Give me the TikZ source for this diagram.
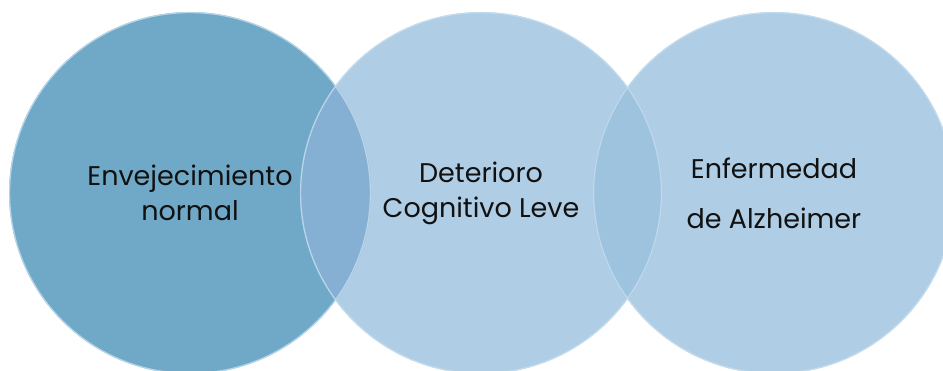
\documentclass[tikz,border=0pt]{standalone}
\usepackage{fontspec}
\setmainfont{Poppins}
\definecolor{normalfill}{HTML}{70A9C7}
\definecolor{stagefill}{HTML}{AFCDE4}
\definecolor{lensA}{HTML}{86B0D3}
\definecolor{lensB}{HTML}{9EC3DF}
\definecolor{rimcol}{HTML}{C8DFEF}
\definecolor{inkcol}{HTML}{111111}
\begin{document}
\begin{tikzpicture}[x=1pt,y=-1pt,
	bubble/.style={circle,minimum size=362pt,inner sep=0pt,align=center,
		text=inkcol,font=\fontsize{27}{35}\selectfont},
	rim/.style={draw=rimcol,line width=1.2pt,opacity=.8}]

				\useasboundingbox (0,0) rectangle (943,371);

				\node[bubble,fill=normalfill] (normal) at (190,193) {Envejecimiento\\normal};
				\node[bubble,fill=stagefill] (dcl) at (481,193) {Deterioro\\Cognitivo Leve};
				\node[bubble,fill=stagefill,font=\fontsize{27}{50}\selectfont] (alz) at (774,193) {Enfermedad\\de Alzheimer};

				% overlaps
				\begin{scope}
					\clip (normal.center) circle (181);
					\fill[lensA] (dcl.center) circle (181);
				\end{scope}
				\begin{scope}
					\clip (dcl.center) circle (181);
					\fill[lensB] (alz.center) circle (181);
				\end{scope}

				\draw[rim] (normal.center) circle (180.4);
				\draw[rim] (dcl.center) circle (180.4);
				\draw[rim] (alz.center) circle (180.4);

			\end{tikzpicture}
\end{document}
